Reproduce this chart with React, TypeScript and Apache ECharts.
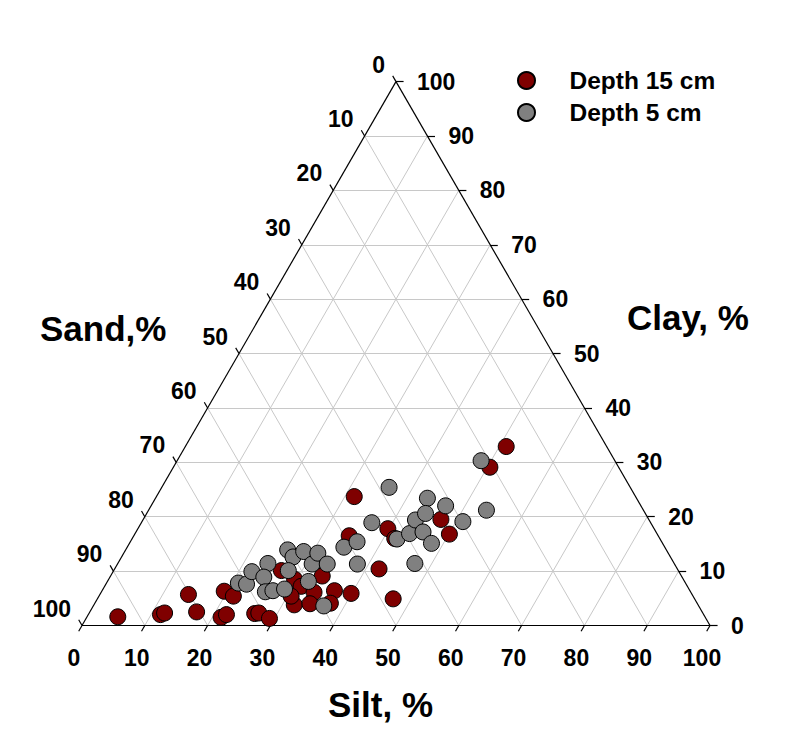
import React, { useEffect, useRef } from "react";
import * as echarts from "echarts";

// Ternary data: [Silt %, Clay %]  (Sand = 100 - Silt - Clay)
const depth15: [number, number][] = [
  [4.9, 1.6], [11.5, 2.0], [12.0, 2.3], [14.1, 5.7], [17.0, 2.5], [19.5, 6.3],
  [21.4, 5.4], [21.4, 1.5], [22.0, 2.0], [26.4, 2.2], [27.0, 2.3], [29.2, 1.3],
  [26.7, 10.1], [29.6, 8.5], [31.3, 7.2], [33.9, 6.1], [31.9, 3.8], [34.3, 4.0],
  [33.7, 9.1], [37.0, 6.4], [37.5, 4.1], [39.9, 5.9], [31.5, 23.7], [34.3, 16.5],
  [39.8, 17.8], [41.8, 16.0], [42.1, 10.4], [47.1, 4.9], [51.1, 32.9], [50.4, 29.1],
  [47.4, 19.5], [50.1, 16.8], [30.6, 5.4],
];
const depth5: [number, number][] = [
  [21.0, 7.8], [22.4, 7.6], [22.1, 9.9], [23.9, 11.4], [24.5, 8.9], [26.1, 6.2],
  [27.2, 6.4], [25.8, 13.9], [27.3, 12.6], [28.5, 13.6], [27.8, 10.1], [28.9, 6.7],
  [32.0, 8.1], [31.0, 11.3], [30.9, 13.3], [33.4, 11.3], [36.7, 3.6], [34.5, 14.4],
  [36.1, 15.4], [38.2, 11.3], [36.7, 18.9], [36.2, 25.4], [42.2, 15.9], [43.7, 16.9],
  [43.4, 19.4], [45.7, 17.2], [47.3, 11.4], [43.3, 23.4], [46.9, 22.0], [44.4, 20.6],
  [48.1, 15.1], [51.1, 19.1], [53.8, 21.2], [48.4, 30.3],
];
const tickValues = [0, 10, 20, 30, 40, 50, 60, 70, 80, 90, 100];
const gridValues = [10, 20, 30, 40, 50, 60, 70, 80, 90];
const seriesNames = ["Depth 15 cm", "Depth 5 cm"];
const axisTitles = { sand: "Sand,%", clay: "Clay, %", silt: "Silt, %" };

const H = Math.sqrt(3) / 2;
// silt, clay -> cartesian
const toXY = (silt: number, clay: number): [number, number] => [silt + clay / 2, clay * H];

const FONT = "'Liberation Sans', Arial, sans-serif";

export default function App() {
  const ref = useRef<HTMLDivElement>(null);
  useEffect(() => {
    if (!ref.current) return;
    const chart = echarts.init(ref.current, null, { renderer: "svg" });

    const gridLines: any[] = [];
    gridValues.forEach((v) => {
      gridLines.push({ coords: [toXY(0, v), toXY(100 - v, v)] });
      gridLines.push({ coords: [toXY(v, 0), toXY(v, 100 - v)] });
      gridLines.push({ coords: [toXY(100 - v, 0), toXY(0, 100 - v)] });
    });
    const edges = [
      { coords: [toXY(0, 0), toXY(100, 0)] },
      { coords: [toXY(100, 0), toXY(0, 100)] },
      { coords: [toXY(0, 100), toXY(0, 0)] },
    ];
    const L = 1.05;
    const ticks: any[] = [];
    tickValues.forEach((v) => {
      const b = toXY(v, 0);
      ticks.push({ coords: [b, [b[0] - 0.5 * L, b[1] - H * L]] });
      const r = toXY(100 - v, v);
      ticks.push({ coords: [r, [r[0] + 1.15 * L, r[1]]] });
      const l = toXY(0, 100 - v); // sand = v
      ticks.push({ coords: [l, [l[0] - 0.5 * L, l[1] + H * L]] });
    });

    const labelBase = {
      show: true,
      color: "#000",
      opacity: 1,
      fontFamily: FONT,
      fontWeight: "bold",
      fontSize: 23,
      position: "inside",
      verticalAlign: "middle",
    };
    const labelSeries = (data: any[], label: any) => ({
      type: "scatter",
      silent: true,
      symbolSize: 1,
      itemStyle: { color: "#fff", opacity: 1 },
      label: { ...labelBase, ...label, formatter: (p: any) => String(p.value[2]) },
      data,
      z: 0,
      clip: false,
    });

    const pointStyle = (color: string) => ({
      color,
      borderColor: "#000",
      borderWidth: 1,
      opacity: 1,
    });

    chart.setOption({
      animation: false,
      backgroundColor: "#fff",
      grid: { left: 82, right: 97, top: 81.6, bottom: 105.5 },
      xAxis: { type: "value", min: 0, max: 100, show: false },
      yAxis: { type: "value", min: 0, max: 100 * H, show: false },
      legend: {
        data: seriesNames,
        orient: "vertical",
        left: 517,
        top: 68,
        padding: 0,
        itemWidth: 76,
        itemHeight: 17,
        itemGap: 7,
        symbolKeepAspect: true,
        icon: "circle",
        textStyle: {
          fontFamily: FONT,
          fontWeight: "bold",
          fontSize: 24.5,
          lineHeight: 24,
          color: "#000",
        },
      },
      graphic: [
        {
          type: "text",
          left: 40,
          top: 311,
          style: { text: axisTitles.sand, font: `bold 35px ${FONT}`, fill: "#000" },
        },
        {
          type: "text",
          left: 627,
          top: 300,
          style: { text: axisTitles.clay, font: `bold 35px ${FONT}`, fill: "#000" },
        },
        {
          type: "text",
          left: 328,
          top: 687,
          style: { text: axisTitles.silt, font: `bold 35px ${FONT}`, fill: "#000" },
        },
      ],
      series: [
        {
          type: "lines",
          coordinateSystem: "cartesian2d",
          silent: true,
          clip: false,
          lineStyle: { color: "#c8c8c8", width: 1, opacity: 1 },
          data: gridLines,
          z: 1,
        },
        {
          type: "lines",
          coordinateSystem: "cartesian2d",
          silent: true,
          clip: false,
          lineStyle: { color: "#000", width: 1.2, opacity: 1 },
          data: [...edges, ...ticks],
          z: 2,
        },
        labelSeries(
          tickValues.map((v) => [...toXY(v, 0), v]),
          { offset: [-8, 32], align: "center" }
        ),
        labelSeries(
          tickValues.map((v) => [...toXY(100 - v, v), v]),
          { offset: [21, 0], align: "left" }
        ),
        labelSeries(
          tickValues.map((v) => [...toXY(0, 100 - v), v]),
          { offset: [-11, -17], align: "right" }
        ),
        {
          name: seriesNames[0],
          type: "scatter",
          symbol: "circle",
          symbolSize: 16,
          itemStyle: pointStyle("#7f0000"),
          data: depth15.map(([s, c]) => toXY(s, c)),
          z: 10,
        },
        {
          name: seriesNames[1],
          type: "scatter",
          symbol: "circle",
          symbolSize: 16,
          itemStyle: pointStyle("#808080"),
          data: depth5.map(([s, c]) => toXY(s, c)),
          z: 11,
        },
      ],
    });
    return () => chart.dispose();
  }, []);
  return (
    <div
      ref={ref}
      style={{ position: "fixed", left: 0, top: 0, width: 807, height: 731, background: "#fff" }}
    />
  );
}
